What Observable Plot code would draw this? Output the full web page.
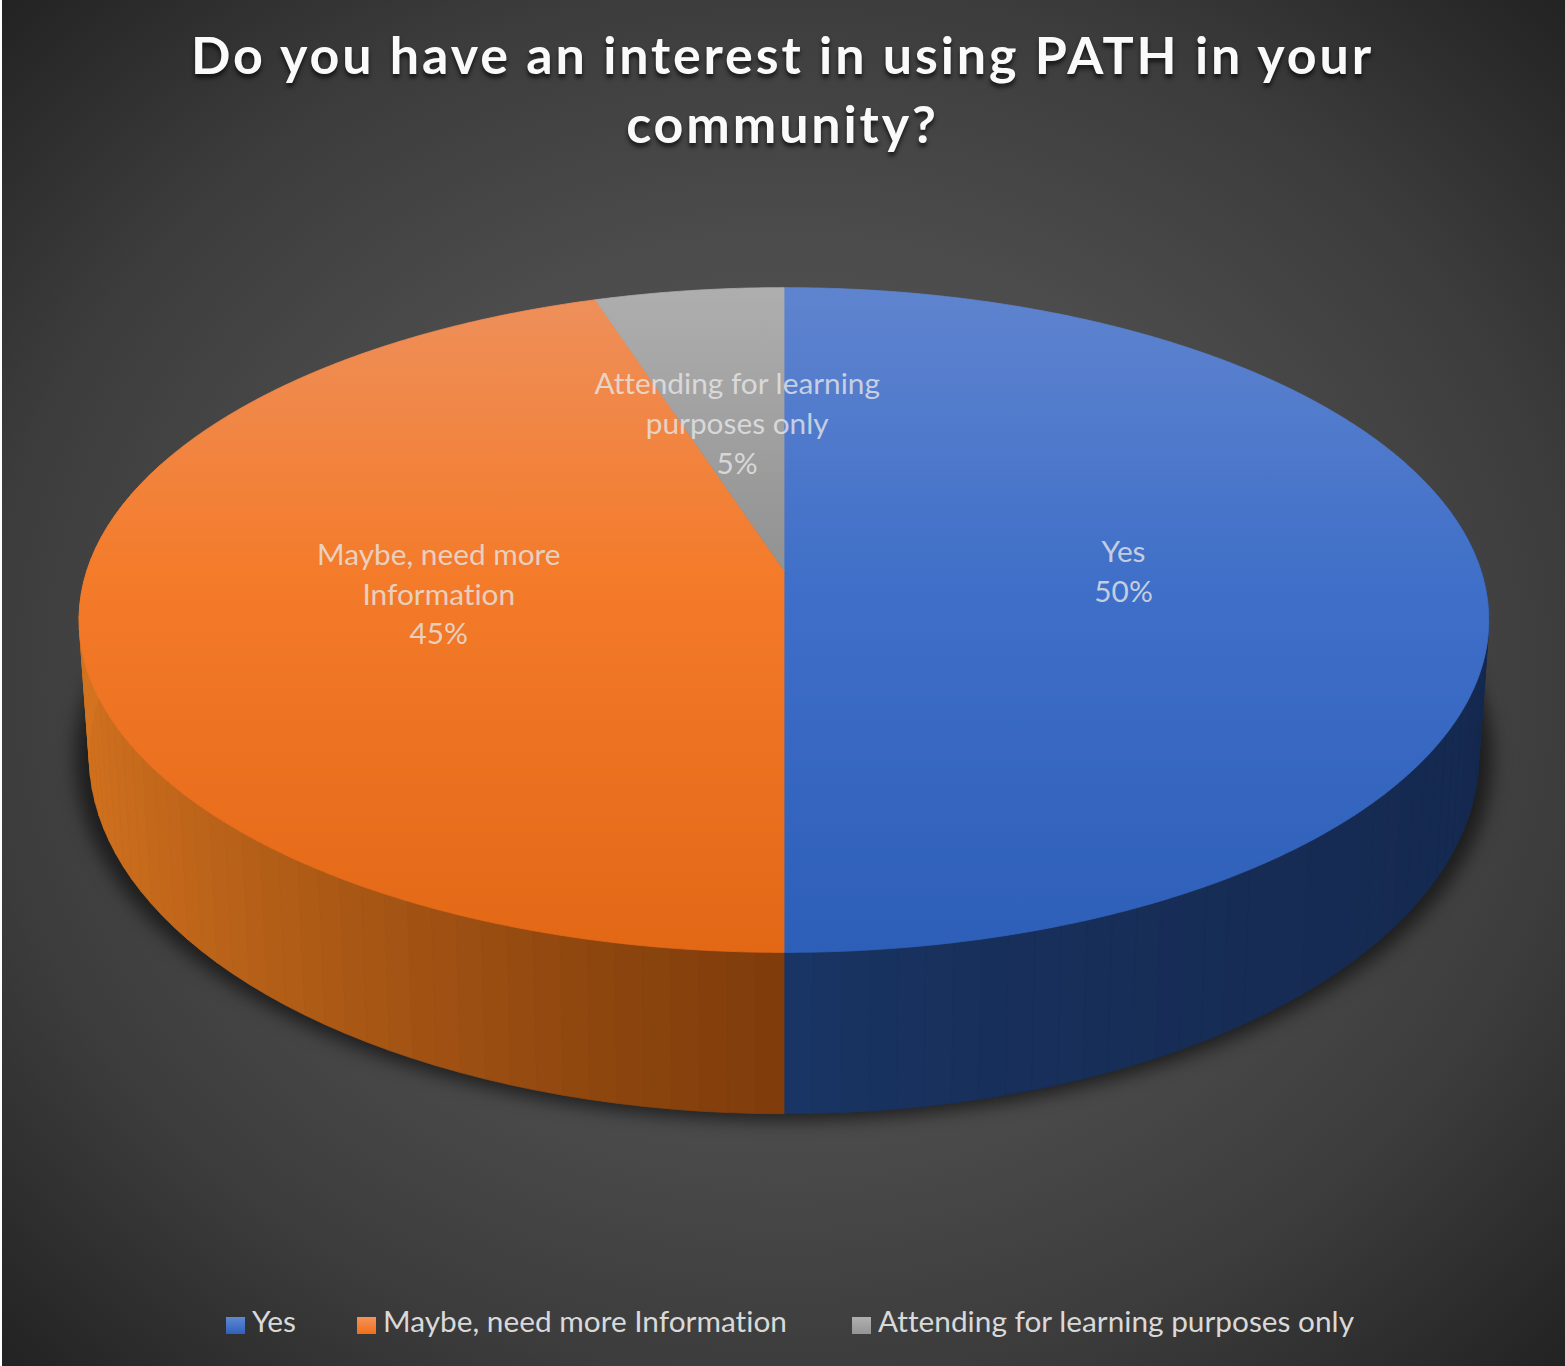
<!DOCTYPE html>
<html>
<head>
<meta charset="utf-8">
<script src="https://cdn.jsdelivr.net/npm/d3@7"></script>
<script src="https://cdn.jsdelivr.net/npm/@observablehq/plot@0.6"></script>
<style>
  html, body { margin: 0; padding: 0; background: #fff; }
  #chart {
    position: relative; width: 1565px; height: 1366px; overflow: hidden;
    font-family: Lato, sans-serif; font-variant-ligatures: none;
    background:
      linear-gradient(#fff, #fff) left / 2px 100% no-repeat,
      radial-gradient(ellipse 1110px 970px at 784px 680px, #565656 0%, #4c4c4c 45%, #3c3c3c 72%, #222 100%);
  }
  #title {
    height: 190px; box-sizing: border-box; padding-top: 20px; text-align: center;
    color: #fafafa; font-weight: 700; font-size: 52px; line-height: 69px;
    letter-spacing: 2.85px; text-shadow: 0 4px 4px rgba(0,0,0,.65);
  }
  #plot svg { display: block; }
  #legend { position: relative; height: 76px; color: #d9d9d9; font-size: 29.8px; }
  #legend .swatch { position: absolute; top: 27px; width: 19px; height: 17px; }
  #legend .name { position: absolute; top: 13px; white-space: nowrap; line-height: 36px; }
</style>
</head>
<body>
<div id="chart">
  <div id="title">Do you have an interest in using PATH in your<br>community?</div>
  <div id="plot"></div>
  <div id="legend"></div>
</div>
<script>
// Survey answers, in pie order starting at twelve o'clock and running clockwise
const categories = ["Yes", "Maybe, need more Information", "Attending for learning purposes only"];
const shares = [50, 45, 5];
const sliceLabels = ["Yes\n50%", "Maybe, need more\nInformation\n45%", "Attending for learning\npurposes only\n5%"];

// Face gradients (top to bottom of each slice)
const faceStops = [
  [["0%", "#5f84cf"], ["45%", "#3f6fc8"], ["100%", "#2e5fb8"]],
  [["0%", "#ee8f5a"], ["42%", "#f47b2a"], ["100%", "#e36816"]],
  [["0%", "#aeaeae"], ["100%", "#929292"]]
];
// Side wall shades: [at the front, at the outer edge], and how fast the shade moves between them
const wallShades = [["#1a3768", "#15294f"], ["#7f3c0b", "#d4731f"], ["#888888", "#888888"]];
const wallShadeCurve = [0.5, 1.15, 1];
const swatchGradients = [
  "linear-gradient(#6089d3, #2f60ba)",
  "linear-gradient(#f5935a, #ee7019)",
  "linear-gradient(#b0b0b0, #949494)"
];
const legendSwatchX = [226, 357, 852];
const legendNameX = [252, 383, 878];
const labelNudge = [[-2, -1], [-4, -4], [3, -3]];

// Perspective view of the disc: k foreshortens the far side, so the hub sits above the rim's middle
const k = 0.149;
const topDisc = {cx: 783.5, cy: 570, a: 697, b: 325};
const baseDisc = {cx: 783.5, cy: 702, a: 687, b: 350};
function project(disc, deg, r = 1) {
  const t = deg * Math.PI / 180;
  const u = r * Math.sin(t), v = -r * Math.cos(t);
  const w = 1 - k * v;
  return {x: disc.cx + disc.a * u / w, y: disc.cy + disc.b * v / w};
}

// Cumulative angles from the shares
const total = d3.sum(shares);
let running = 0;
const slices = shares.map((s, i) => {
  const start = running / total * 360;
  running += s;
  return {i, name: categories[i], start, end: running / total * 360};
});

// Top face of every slice as a closed outline
const facePoints = slices.flatMap((s) => {
  const pts = [{...project(topDisc, 0, 0), z: s.i}];
  for (let a = s.start; a < s.end; a += 0.5) pts.push({...project(topDisc, a), z: s.i});
  pts.push({...project(topDisc, s.end), z: s.i}, {...project(topDisc, 0, 0), z: s.i});
  return pts;
});

// Side wall as narrow facets, each with its own shade
const facetStep = 2;
const wallPoints = [];
for (const s of slices) {
  const shade = d3.interpolateRgb(...wallShades[s.i]);
  for (let a = s.start; a < s.end; a += facetStep) {
    const b = Math.min(a + facetStep, s.end);
    const mid = (a + b) / 2;
    if (Math.cos(mid * Math.PI / 180) > 0.35) continue; // facets on the far side stay hidden
    const fill = shade(Math.pow(Math.abs(Math.sin(mid * Math.PI / 180)), wallShadeCurve[s.i]));
    const z = `${s.i}-${a}`;
    for (const p of [project(topDisc, a), project(topDisc, b), project(baseDisc, b), project(baseDisc, a), project(topDisc, a)]) {
      wallPoints.push({...p, z, fill});
    }
  }
}

// Soft shadow around the base
const shadowPoints = d3.range(0, 361, 2).map((a) =>
  project({...baseDisc, a: baseDisc.a + 14, b: baseDisc.b + 4, cy: baseDisc.cy + 2}, a)
);

// Labels sit just inside half the radius, along each slice's middle angle
const labelData = slices.map((s) => {
  const p = project(topDisc, (s.start + s.end) / 2, 0.49);
  return {x: p.x + labelNudge[s.i][0], y: p.y + labelNudge[s.i][1], text: sliceLabels[s.i]};
});

function gradientDefs() {
  const defs = d3.create("svg:defs");
  faceStops.forEach((stops, i) => {
    const g = defs.append("linearGradient").attr("id", `face-${i}`)
      .attr("gradientUnits", "objectBoundingBox")
      .attr("x1", 0).attr("x2", 0).attr("y1", 0).attr("y2", 1);
    for (const [offset, color] of stops) g.append("stop").attr("offset", offset).attr("stop-color", color);
  });
  return defs.node();
}

const plot = Plot.plot({
  width: 1565,
  height: 1100,
  margin: 0,
  style: {background: "transparent", overflow: "visible"},
  x: {domain: [0, 1565], range: [0, 1565], axis: null},
  y: {domain: [190, 1290], range: [0, 1100], axis: null},
  color: {type: "identity"},
  marks: [
    gradientDefs,
    Plot.line(shadowPoints, {x: "x", y: "y", fill: "#191919", fillOpacity: 0.9, stroke: "none", imageFilter: "blur(9px)"}),
    Plot.line(wallPoints, {x: "x", y: "y", z: "z", fill: "fill", stroke: "fill", strokeWidth: 0.8}),
    ...slices.map((s) =>
      Plot.line(facePoints.filter((p) => p.z === s.i), {
        x: "x", y: "y", fill: `url(#face-${s.i})`, stroke: `url(#face-${s.i})`, strokeWidth: 0.8
      })
    ),
    Plot.text(labelData, {
      x: "x", y: "y", text: "text",
      fontFamily: "Lato, sans-serif", fontSize: 29.8, lineHeight: 1.342,
      fill: "#e8e8e8", fillOpacity: 0.78
    })
  ]
});
document.getElementById("plot").append(plot);

const legend = d3.select("#legend");
categories.forEach((name, i) => {
  legend.append("span").attr("class", "swatch")
    .style("left", `${legendSwatchX[i]}px`).style("background", swatchGradients[i]);
  legend.append("span").attr("class", "name")
    .style("left", `${legendNameX[i]}px`).text(name);
});
</script>
</body>
</html>
